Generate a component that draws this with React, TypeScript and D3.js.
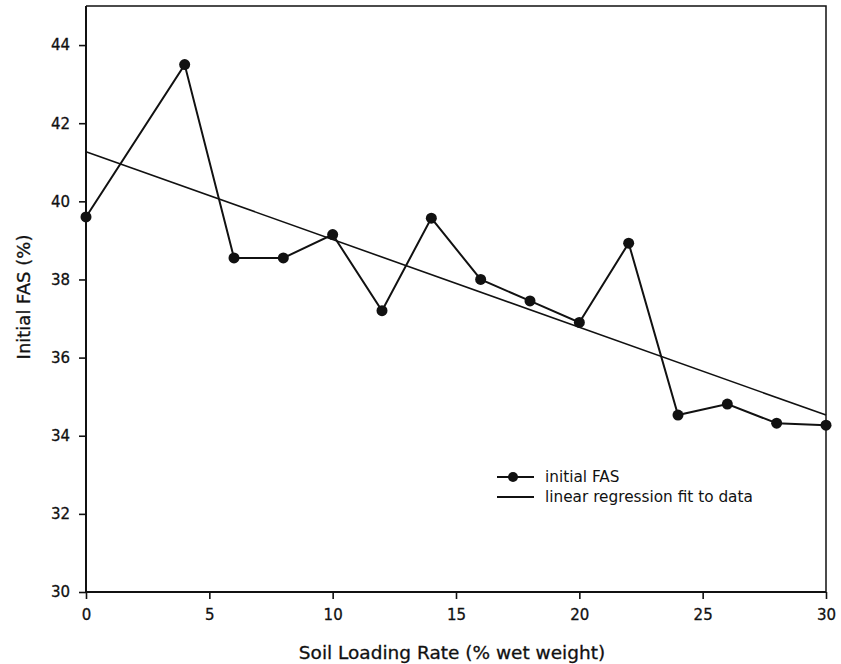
import * as d3 from "d3";
import { useEffect, useRef } from "react";

// values
const loadingRate = [0, 4, 6, 8, 10, 12, 14, 16, 18, 20, 22, 24, 26, 28, 30];
const initialFAS = [
  39.6, 43.5, 38.55, 38.55, 39.15, 37.2, 39.57, 38.0, 37.45, 36.9, 38.93,
  34.53, 34.81, 34.32, 34.27,
];
// linear regression fit (intercept, slope)
const fitIntercept = 41.27;
const fitSlope = -0.2247;

const xTicks = [0, 5, 10, 15, 20, 25, 30];
const yTicks = [30, 32, 34, 36, 38, 40, 42, 44];
const legendLabels = ["initial FAS", "linear regression fit to data"];

const W = 841;
const H = 664;
const font = "DejaVu Sans, sans-serif";

const drawChart = (target: any) => {
  const m = { left: 86, right: 826, top: 6, bottom: 592 };
  const svg = d3
    .create("svg")
    .attr("width", W)
    .attr("height", H)
    .style("position", "absolute")
    .style("left", 0)
    .style("top", 0)
    .style("background", "#fff");

  const x = d3.scaleLinear().domain([0, 30]).range([m.left, m.right]);
  const y = d3.scaleLinear().domain([30, 45]).range([m.bottom, m.top]);

  // frame: top & right thinner
  svg
    .append("path")
    .attr("d", `M${m.left},${m.top}H${m.right}V${m.bottom}`)
    .attr("fill", "none")
    .attr("stroke", "#111")
    .attr("stroke-width", 1.5);

  const xAxis = svg
    .append("g")
    .attr("transform", `translate(0,${m.bottom})`)
    .call(d3.axisBottom(x).tickValues(xTicks).tickSize(7).tickPadding(10));
  const yAxis = svg
    .append("g")
    .attr("transform", `translate(${m.left},0)`)
    .call(d3.axisLeft(y).tickValues(yTicks).tickSize(7).tickPadding(9));

  [xAxis, yAxis].forEach((g) => {
    g.select(".domain").attr("stroke", "#111").attr("stroke-width", 2);
    g.selectAll(".tick line").attr("stroke", "#111").attr("stroke-width", 1.6);
    g.selectAll(".tick text")
      .attr("fill", "#111")
      .attr("stroke", "#111")
      .attr("stroke-width", 0.3)
      .style("font-family", font)
      .style("font-size", "15px");
  });
  // d3 domain path has outer ticks; strip them
  xAxis.select(".domain").attr("d", `M${m.left},0H${m.right}`);
  yAxis.select(".domain").attr("d", `M0,${m.bottom}V${m.top}`);

  // regression line
  svg
    .append("line")
    .attr("x1", x(0))
    .attr("y1", y(fitIntercept))
    .attr("x2", x(30))
    .attr("y2", y(fitIntercept + fitSlope * 30))
    .attr("stroke", "#111")
    .attr("stroke-width", 1.6);

  const pts: [number, number][] = loadingRate.map((d, i) => [d, initialFAS[i]]);
  const line = d3
    .line<[number, number]>()
    .x((d) => x(d[0]))
    .y((d) => y(d[1]));

  svg
    .append("path")
    .attr("d", line(pts))
    .attr("fill", "none")
    .attr("stroke", "#111")
    .attr("stroke-width", 2);

  svg
    .append("g")
    .selectAll("circle")
    .data(pts)
    .join("circle")
    .attr("cx", (d) => x(d[0]))
    .attr("cy", (d) => y(d[1]))
    .attr("r", 5.5)
    .attr("fill", "#111");

  // legend
  const lg = svg.append("g").attr("transform", "translate(497,477)");
  legendLabels.forEach((label, i) => {
    const row = lg.append("g").attr("transform", `translate(0,${i * 20})`);
    row
      .append("line")
      .attr("x1", 0)
      .attr("x2", 37)
      .attr("stroke", "#111")
      .attr("stroke-width", 1.8);
    if (i === 0)
      row.append("circle").attr("cx", 16).attr("r", 5).attr("fill", "#111");
    row
      .append("text")
      .text(label)
      .attr("x", 48)
      .attr("dy", "0.35em")
      .attr("fill", "#111")
      .style("font-family", font)
      .style("font-size", "15.3px");
  });

  // axis titles
  const titles = svg
    .append("g")
    .attr("fill", "#111")
    .attr("stroke", "#111")
    .attr("stroke-width", 0.3)
    .style("font-family", font)
    .style("font-size", "18.5px");

  titles
    .append("text")
    .text("Soil Loading Rate (% wet weight)")
    .attr("x", 452)
    .attr("y", 659)
    .attr("text-anchor", "middle");

  titles
    .append("text")
    .text("Initial FAS (%)")
    .attr("transform", `translate(30,297) rotate(-90)`)
    .style("font-size", "18px")
    .attr("text-anchor", "middle");

  const t = d3.select(target);
  t.selectAll("svg").remove();
  t.append(() => svg.node());
};

const App = () => {
  const ref = useRef<HTMLDivElement>(null);
  useEffect(() => {
    if (ref.current) drawChart(ref.current);
  }, []);
  return <div ref={ref} style={{ width: W, height: H }} />;
};

export default App;
